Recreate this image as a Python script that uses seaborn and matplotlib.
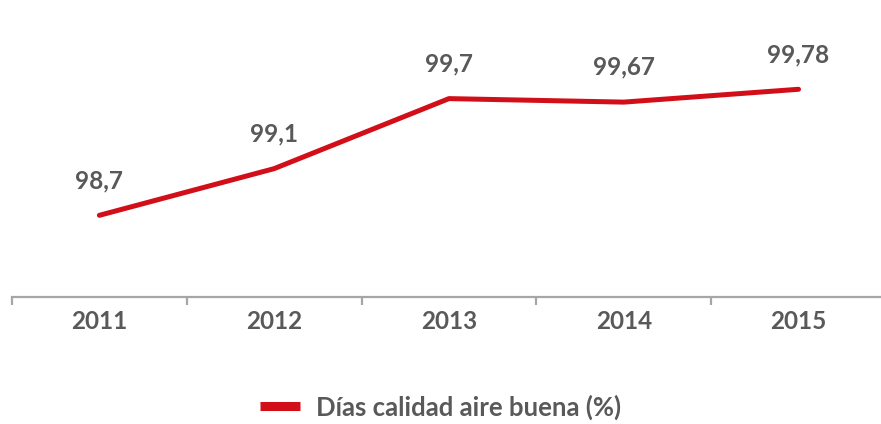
import matplotlib
matplotlib.use('Agg')
import matplotlib.pyplot as plt
import seaborn as sns
import pandas as pd

years = ['2011', '2012', '2013', '2014', '2015']
valores = [98.7, 99.1, 99.7, 99.67, 99.78]
etiquetas = ['98,7', '99,1', '99,7', '99,67', '99,78']
serie = 'Días calidad aire buena (%)'

sns.set_style('white')
plt.rcParams['font.family'] = ['Lato', 'DejaVu Sans']
plt.rcParams['font.weight'] = 'bold'

gris = '#595959'
rojo = '#D20F19'
fs = 17.5

df = pd.DataFrame({'anio': years, 'valor': valores})

fig = plt.figure(figsize=(8.81, 4.24), dpi=100)
ax = fig.add_axes([0.0136, 0.2995, 0.992, 0.5505])

sns.lineplot(data=df, x='anio', y='valor', color=rojo, linewidth=3.6, ax=ax,
             label=serie, legend=False)

for i, (v, t) in enumerate(zip(valores, etiquetas)):
    ax.annotate(t, (i, v), xytext=(0, 25), textcoords='offset points',
                ha='center', va='center', fontsize=fs, color=gris, fontweight='bold')

ax.set_xlim(-0.5, 4.5)
ax.set_ylim(98, 100)
ax.set_xlabel('')
ax.set_ylabel('')
ax.set_yticks([])

for s in ['top', 'right', 'left']:
    ax.spines[s].set_visible(False)
ax.spines['bottom'].set_color('#A6A6A6')
ax.spines['bottom'].set_linewidth(1.6)

ax.set_xticks(range(len(years)))
ax.set_xticklabels(years, fontsize=fs, color=gris, fontweight='bold')
ax.tick_params(axis='x', which='major', length=0, pad=9)
ax.set_xticks([i - 0.5 for i in range(len(years) + 1)], minor=True)
ax.tick_params(axis='x', which='minor', bottom=True, length=6, width=1.6,
               color='#A6A6A6', direction='out')

leg = fig.legend(loc='center', bbox_to_anchor=(0.5, 0.04), frameon=False,
                 fontsize=18.5, handlelength=1.55, handletextpad=0.65)
for txt in leg.get_texts():
    txt.set_color(gris)
    txt.set_fontweight('bold')
for h in leg.legend_handles:
    h.set_linewidth(6.5)
    h.set_solid_capstyle('butt')

fig.savefig('out.png', dpi=100)
